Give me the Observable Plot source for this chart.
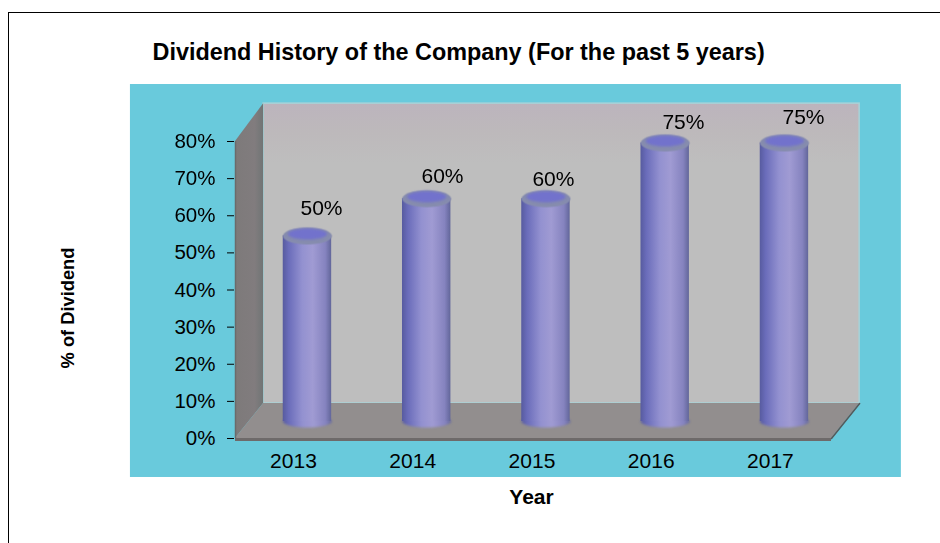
<!DOCTYPE html>
<html>
<head>
<meta charset="utf-8">
<script src="https://cdn.jsdelivr.net/npm/d3@7"></script>
<script src="https://cdn.jsdelivr.net/npm/@observablehq/plot@0.6"></script>
<style>
  html, body { margin: 0; padding: 0; background: #fff; overflow: hidden; }
  #frame { position: absolute; left: 8px; top: 12px; width: 940px; height: 540px; border-left: 1px solid #000; border-top: 1px solid #000; }
  #chart { position: absolute; left: 0; top: 0; }
</style>
</head>
<body>
<div id="frame"></div>
<div id="chart"></div>
<script>
const chartTitle = "Dividend History of the Company (For the past 5 years)";
const xTitle = "Year";
const yTitle = "% of Dividend";
const years = [2013, 2014, 2015, 2016, 2017];
const dividends = [50, 60, 60, 75, 75];
const labelYears = [2013.235, 2014.25, 2015.18, 2016.27, 2017.277];
const labelLevels = [61.9, 70.6, 69.8, 85.1, 86.5];
const yTicks = [0, 10, 20, 30, 40, 50, 60, 70, 80];

const xDomain = [2012.514, 2017.512];
const yDomain = [0, 80];
const depthX = 0.236;
const depthY = 9.43;
const wallTop = 90.2;
const halfBar = 0.203;

const rows = years.map((year, i) => ({year, value: dividends[i]}));
const labels = years.map((year, i) => ({x: labelYears[i], y: labelLevels[i], text: dividends[i] + "%"}));

const ellipse = (rx, ry) => ({
  draw(c) {
    const k = 0.5523;
    c.moveTo(-rx, 0);
    c.bezierCurveTo(-rx, -k * ry, -k * rx, -ry, 0, -ry);
    c.bezierCurveTo(k * rx, -ry, rx, -k * ry, rx, 0);
    c.bezierCurveTo(rx, k * ry, k * rx, ry, 0, ry);
    c.bezierCurveTo(-k * rx, ry, -rx, k * ry, -rx, 0);
    c.closePath();
  }
});

const defs = () => {
  const d = d3.create("svg:defs");
  const cyl = d.append("linearGradient").attr("id", "cyl");
  [[0, "#575b9f"], [0.12, "#6a6cba"], [0.4, "#9391d0"], [0.62, "#a09bd3"], [0.88, "#8583bf"], [1, "#62669a"]]
    .forEach(([o, c]) => cyl.append("stop").attr("offset", o).attr("stop-color", c));
  const wall = d.append("linearGradient").attr("id", "wall").attr("x2", 0).attr("y2", 1);
  [[0, "#bcb4bd"], [0.1, "#bdb9bb"], [0.2, "#bebebe"], [1, "#bebebe"]]
    .forEach(([o, c]) => wall.append("stop").attr("offset", o).attr("stop-color", c));
  const side = d.append("linearGradient").attr("id", "side");
  [[0, "#7d7a7a"], [0.7, "#817c7e"], [1, "#707575"]]
    .forEach(([o, c]) => side.append("stop").attr("offset", o).attr("stop-color", c));
  return d.node();
};

const x0 = xDomain[0], x1 = xDomain[1];
const soft = "blur(0.7px)";
const chart = Plot.plot({
  width: 940,
  height: 543,
  marginLeft: 235,
  marginRight: 109,
  marginTop: 141,
  marginBottom: 105,
  x: {domain: xDomain, axis: null},
  y: {domain: yDomain, axis: null},
  style: {background: "transparent", fontFamily: "'Liberation Sans', Arial, sans-serif", overflow: "visible"},
  marks: [
    defs,
    // teal panel
    Plot.rect([0], {x1: () => 2011.633, x2: () => 2018.098, y1: () => -10.5, y2: () => 95.35, fill: "#69cadc"}),
    // back wall
    Plot.rect([0], {x1: () => x0 + depthX, x2: () => x1 + depthX, y1: () => depthY, y2: () => wallTop, fill: "url(#wall)", stroke: "#a9d3d8", strokeWidth: 1.5, imageFilter: soft}),
    // left wall
    Plot.areaY([{x: x0, a: 0, b: 80}, {x: x0 + depthX, a: depthY, b: wallTop}], {x: "x", y1: "a", y2: "b", fill: "url(#side)", curve: "linear", imageFilter: soft}),
    // floor
    Plot.areaY([
      {x: x0, a: 0, b: 0},
      {x: x0 + depthX, a: 0, b: depthY},
      {x: x1, a: 0, b: depthY},
      {x: x1 + depthX, a: depthY, b: depthY}
    ], {x: "x", y1: "a", y2: "b", fill: "#928e8e", curve: "linear", imageFilter: soft}),
    Plot.line([{x: x1, y: 0}, {x: x1 + depthX, y: depthY}], {x: "x", y: "y", stroke: "#55595a", strokeWidth: 1.5, curve: "linear"}),
    Plot.ruleY([0], {x1: x0, x2: x1, stroke: "#6e6a6a", strokeWidth: 3, dy: 1}),
    Plot.ruleX([x0], {y1: 0, y2: 80, stroke: "#6b6b6b", strokeWidth: 1.5}),
    // cylinders
    Plot.dot(rows, {x: "year", y: () => 0, dx: 14, dy: -17, symbol: ellipse(24.5, 6), fill: "url(#cyl)", stroke: "none", imageFilter: "blur(1.2px)"}),
    Plot.rect(rows, {
      x1: d => d.year - halfBar,
      x2: d => d.year + halfBar,
      y1: () => 0,
      y2: "value",
      dx: 14,
      dy: -17,
      fill: "url(#cyl)",
      imageFilter: soft
    }),
    Plot.dot(rows, {x: "year", y: "value", dx: 14, dy: -17, symbol: ellipse(24.5, 8.5), fill: "#868cae", stroke: "none", imageFilter: soft}),
    Plot.dot(rows, {x: "year", y: "value", dx: 14, dy: -19, symbol: ellipse(19.5, 5.5), fill: "#7272cc", stroke: "none", imageFilter: "blur(1px)"}),
    // value labels
    Plot.text(labels, {x: "x", y: "y", text: "text", fontSize: 21, fill: "#000"}),
    // axes
    Plot.axisY({ticks: yTicks, tickFormat: d => d + "%", tickSize: 7, tickPadding: 12, fontSize: 20.5, stroke: "#000", color: "#000", label: null, strokeOpacity: 1, dx: -1}),
    Plot.axisX({ticks: years, tickFormat: d => String(d), tickSize: 0, tickPadding: 15, fontSize: 21, color: "#000", label: null}),
    // titles
    Plot.text([chartTitle], {frameAnchor: "top-left", dx: -83, dy: -89, textAnchor: "start", fontSize: 23.4, fontWeight: "bold", fill: "#000", lineAnchor: "middle"}),
    Plot.text([xTitle], {frameAnchor: "bottom", dx: -2, dy: 65, fontSize: 21, fontWeight: "bold", fill: "#000"}),
    Plot.text([yTitle], {frameAnchor: "left", dx: -167, dy: 18, rotate: -90, textAnchor: "middle", fontSize: 18.3, fontWeight: "bold", fill: "#000"})
  ]
});
document.getElementById("chart").appendChild(chart);
</script>
</body>
</html>
